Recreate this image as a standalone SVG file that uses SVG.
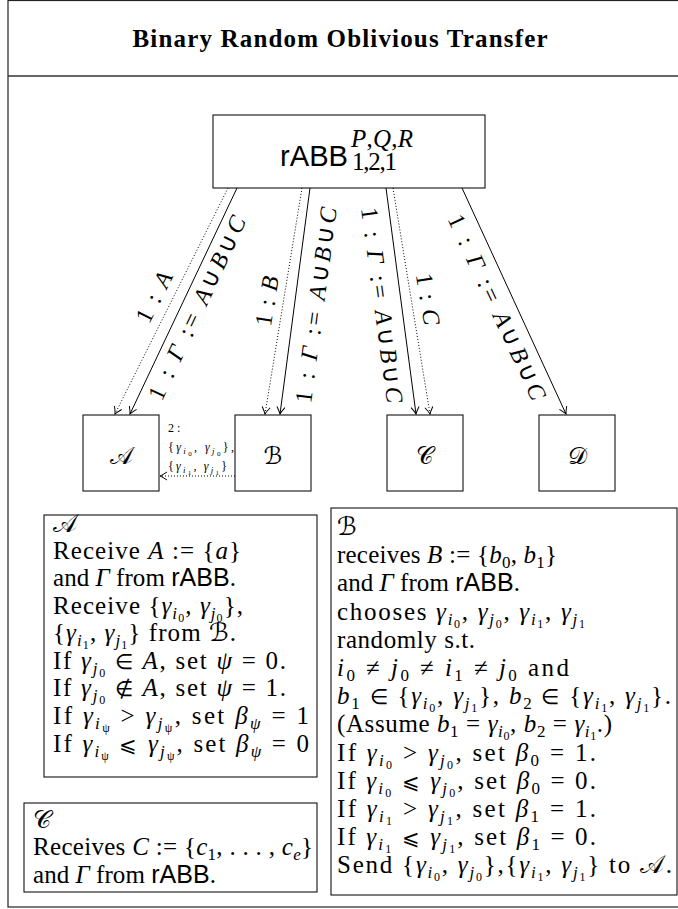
<svg xmlns="http://www.w3.org/2000/svg" width="678" height="909" viewBox="0 0 678 909">
<style>
.t{font-family:"Liberation Serif",serif;font-size:25px;fill:#000}
.i{font-style:italic}
.s{font-size:17px}
.ss{font-size:12px;font-style:normal}
.op{font-size:21px}
.sf{font-family:"Liberation Sans",sans-serif;font-style:normal}
.cal{font-family:"DejaVu Sans","Noto Sans",serif;font-style:normal}
.box{fill:#fff;stroke:#111;stroke-width:1.1}
.lab{font-family:"Liberation Serif",serif;font-size:24px;fill:#000}
.sm{font-family:"Liberation Serif",serif;font-size:12px;fill:#000}
.s8{font-size:9px}
.s6{font-size:7px;font-style:normal}
.solid{stroke:#000;stroke-width:1;fill:none}
.dot{stroke:#000;stroke-width:1;fill:none;stroke-dasharray:1 2}
</style>
<defs>
<marker id="ah" viewBox="-9 -6 11 12" refX="0" refY="0" markerWidth="11" markerHeight="12" markerUnits="userSpaceOnUse" orient="auto">
<path d="M-7,-4 Q-2.5,-1 0,0 Q-2.5,1 -7,4" fill="none" stroke="#000" stroke-width="1"/>
</marker>
</defs>
<rect x="0" y="0" width="678" height="909" fill="#fff"/>
<g id="frame">
<rect x="8" y="0.5" width="700" height="906.5" fill="none" stroke="#222" stroke-width="1.2"/>
<line x1="8" y1="76" x2="678" y2="76" stroke="#333" stroke-width="1.6"/>
</g>
<g id="title">
<text x="340" y="47" text-anchor="middle" font-family="Liberation Serif, serif" font-weight="bold" font-size="25" textLength="415" lengthAdjust="spacing">Binary Random Oblivious Transfer</text>
</g>
<g id="node-rabb">
<rect class="box" x="213" y="115" width="272" height="73"/>
<text class="sf" x="280" y="166" font-size="29" textLength="68" lengthAdjust="spacingAndGlyphs">rABB</text>
<text class="t" x="351" y="147" font-size="20" textLength="62"><tspan class="i">P</tspan>,<tspan class="i">Q</tspan>,<tspan class="i">R</tspan></text>
<text class="t" x="352" y="170" font-size="20" textLength="45">1,2,1</text>
</g>
<g id="node-A"><rect class="box" x="83" y="415" width="76" height="76"/><text class="cal" x="121" y="464" font-size="24" text-anchor="middle">𝒜</text></g>
<g id="node-B"><rect class="box" x="235" y="415" width="76" height="76"/><text class="cal" x="273" y="464" font-size="24" text-anchor="middle">ℬ</text></g>
<g id="node-C"><rect class="box" x="387" y="415" width="76" height="76"/><text class="cal" x="425" y="464" font-size="24" text-anchor="middle">𝒞</text></g>
<g id="node-D"><rect class="box" x="539" y="415" width="76" height="76"/><text class="cal" x="577" y="464" font-size="24" text-anchor="middle">𝒟</text></g>
<g id="connectors">
<line class="dot" x1="228" y1="188" x2="115" y2="414" marker-end="url(#ah)"/>
<line class="solid" x1="237" y1="188" x2="130" y2="414" marker-end="url(#ah)"/>
<line class="dot" x1="302" y1="188" x2="265" y2="414" marker-end="url(#ah)"/>
<line class="solid" x1="310" y1="188" x2="280" y2="414" marker-end="url(#ah)"/>
<line class="solid" x1="386" y1="188" x2="416" y2="414" marker-end="url(#ah)"/>
<line class="dot" x1="393" y1="188" x2="430" y2="414" marker-end="url(#ah)"/>
<line class="solid" x1="462" y1="188" x2="566" y2="414" marker-end="url(#ah)"/>
<line class="dot" x1="235" y1="476" x2="160" y2="476" marker-end="url(#ah)"/>
<text class="lab" transform="translate(154,297) rotate(-63.4)" x="0" y="8" text-anchor="middle" textLength="54">1 : <tspan class="i">A</tspan></text>
<text class="lab" transform="translate(197,308) rotate(-64.9)" x="0" y="8" text-anchor="middle" textLength="200">1 : <tspan class="i">Γ</tspan> := <tspan class="i">A</tspan>∪<tspan class="i">B</tspan>∪<tspan class="i">C</tspan></text>
<text class="lab" transform="translate(267,301) rotate(-80.7)" x="0" y="8" text-anchor="middle" textLength="50">1 : <tspan class="i">B</tspan></text>
<text class="lab" transform="translate(316,305) rotate(-82.4)" x="0" y="8" text-anchor="middle" textLength="197">1 : <tspan class="i">Γ</tspan> := <tspan class="i">A</tspan>∪<tspan class="i">B</tspan>∪<tspan class="i">C</tspan></text>
<text class="lab" transform="translate(382,305) rotate(82.4)" x="0" y="8" text-anchor="middle" textLength="197">1 : <tspan class="i">Γ</tspan> := <tspan class="i">A</tspan>∪<tspan class="i">B</tspan>∪<tspan class="i">C</tspan></text>
<text class="lab" transform="translate(428,299) rotate(80.6)" x="0" y="8" text-anchor="middle" textLength="52">1 : <tspan class="i">C</tspan></text>
<text class="lab" transform="translate(497,307) rotate(65.1)" x="0" y="8" text-anchor="middle" textLength="202">1 : <tspan class="i">Γ</tspan> := <tspan class="i">A</tspan>∪<tspan class="i">B</tspan>∪<tspan class="i">C</tspan></text>
<text class="sm" x="168" y="432">2 :</text>
<text class="sm" x="168" y="451" textLength="66">{<tspan class="i">γ</tspan><tspan class="i s8" dy="3">i</tspan><tspan class="s6" dy="2">0</tspan><tspan dy="-5">, </tspan><tspan class="i">γ</tspan><tspan class="i s8" dy="3">j</tspan><tspan class="s6" dy="2">0</tspan><tspan dy="-5">},</tspan></text>
<text class="sm" x="168" y="470" textLength="59">{<tspan class="i">γ</tspan><tspan class="i s8" dy="3">i</tspan><tspan class="s6" dy="2">1</tspan><tspan dy="-5">, </tspan><tspan class="i">γ</tspan><tspan class="i s8" dy="3">j</tspan><tspan class="s6" dy="2">1</tspan><tspan dy="-5">}</tspan></text>
</g>
<g id="box-A">
<rect class="box" x="44" y="515" width="273" height="262"/>
<text class="t cal" x="53" y="532" font-size="22">𝒜</text>
<text class="t" x="53" y="559" textLength="188">Receive <tspan class="i">A</tspan> := {<tspan class="i">a</tspan>}</text>
<text class="t" x="53" y="586" textLength="183">and <tspan class="i">Γ</tspan> from <tspan class="sf">rABB</tspan>.</text>
<text class="t" x="53" y="614" textLength="190">Receive {<tspan class="i">γ</tspan><tspan class="i s" dy="5">i</tspan><tspan class="ss" dy="3">0</tspan><tspan dy="-8">, </tspan><tspan class="i">γ</tspan><tspan class="i s" dy="5">j</tspan><tspan class="ss" dy="3">0</tspan><tspan dy="-8">},</tspan></text>
<text class="t" x="53" y="641" textLength="183">{<tspan class="i">γ</tspan><tspan class="i s" dy="5">i</tspan><tspan class="ss" dy="3">1</tspan><tspan dy="-8">, </tspan><tspan class="i">γ</tspan><tspan class="i s" dy="5">j</tspan><tspan class="ss" dy="3">1</tspan><tspan dy="-8">} from </tspan><tspan class="cal">ℬ</tspan>.</text>
<text class="t" x="53" y="669" textLength="233">If <tspan class="i">γ</tspan><tspan class="i s" dy="5">j</tspan><tspan class="ss" dy="3">0</tspan><tspan dy="-8"> </tspan><tspan class="op">∈</tspan> <tspan class="i">A</tspan>, set <tspan class="i">ψ</tspan> = 0.</text>
<text class="t" x="53" y="696" textLength="233">If <tspan class="i">γ</tspan><tspan class="i s" dy="5">j</tspan><tspan class="ss" dy="3">0</tspan><tspan dy="-8"> </tspan><tspan class="op">∉</tspan> <tspan class="i">A</tspan>, set <tspan class="i">ψ</tspan> = 1.</text>
<text class="t" x="53" y="724" textLength="256">If <tspan class="i">γ</tspan><tspan class="i s" dy="5">i</tspan><tspan class="ss i" dy="3">ψ</tspan><tspan dy="-8"> &gt; </tspan><tspan class="i">γ</tspan><tspan class="i s" dy="5">j</tspan><tspan class="ss i" dy="3">ψ</tspan><tspan dy="-8">, set </tspan><tspan class="i">β</tspan><tspan class="i s" dy="5">ψ</tspan><tspan dy="-5"> = 1</tspan></text>
<text class="t" x="53" y="752" textLength="256">If <tspan class="i">γ</tspan><tspan class="i s" dy="5">i</tspan><tspan class="ss i" dy="3">ψ</tspan><tspan dy="-8"> </tspan><tspan class="op">⩽</tspan> <tspan class="i">γ</tspan><tspan class="i s" dy="5">j</tspan><tspan class="ss i" dy="3">ψ</tspan><tspan dy="-8">, set </tspan><tspan class="i">β</tspan><tspan class="i s" dy="5">ψ</tspan><tspan dy="-5"> = 0</tspan></text>
</g>
<g id="box-C">
<rect class="box" x="24" y="803" width="293" height="89"/>
<text class="t cal" x="33" y="828" font-size="22">𝒞</text>
<text class="t" x="33" y="855" textLength="280">Receives <tspan class="i">C</tspan> := {<tspan class="i">c</tspan><tspan class="s" dy="5">1</tspan><tspan dy="-5">, . . . , </tspan><tspan class="i">c</tspan><tspan class="i s" dy="5">e</tspan><tspan dy="-5">}</tspan></text>
<text class="t" x="33" y="883" textLength="183">and <tspan class="i">Γ</tspan> from <tspan class="sf">rABB</tspan>.</text>
</g>
<g id="box-B">
<rect class="box" x="331" y="508" width="346" height="387"/>
<text class="t cal" x="337" y="535" font-size="22">ℬ</text>
<text class="t" x="337" y="563" textLength="220">receives <tspan class="i">B</tspan> := {<tspan class="i">b</tspan><tspan class="s" dy="5">0</tspan><tspan dy="-5">, </tspan><tspan class="i">b</tspan><tspan class="s" dy="5">1</tspan><tspan dy="-5">}</tspan></text>
<text class="t" x="337" y="591" textLength="183">and <tspan class="i">Γ</tspan> from <tspan class="sf">rABB</tspan>.</text>
<text class="t" x="337" y="620" textLength="248">chooses <tspan class="i">γ</tspan><tspan class="i s" dy="5">i</tspan><tspan class="ss" dy="3">0</tspan><tspan dy="-8">, </tspan><tspan class="i">γ</tspan><tspan class="i s" dy="5">j</tspan><tspan class="ss" dy="3">0</tspan><tspan dy="-8">, </tspan><tspan class="i">γ</tspan><tspan class="i s" dy="5">i</tspan><tspan class="ss" dy="3">1</tspan><tspan dy="-8">, </tspan><tspan class="i">γ</tspan><tspan class="i s" dy="5">j</tspan><tspan class="ss" dy="3">1</tspan></text>
<text class="t" x="337" y="648" textLength="138">randomly s.t.</text>
<text class="t" x="337" y="676" textLength="232"><tspan class="i">i</tspan><tspan class="s" dy="5">0</tspan><tspan dy="-5"> ≠ </tspan><tspan class="i">j</tspan><tspan class="s" dy="5">0</tspan><tspan dy="-5"> ≠ </tspan><tspan class="i">i</tspan><tspan class="s" dy="5">1</tspan><tspan dy="-5"> ≠ </tspan><tspan class="i">j</tspan><tspan class="s" dy="5">0</tspan><tspan dy="-5"> and</tspan></text>
<text class="t" x="337" y="704" textLength="334"><tspan class="i">b</tspan><tspan class="s" dy="5">1</tspan><tspan dy="-5"> </tspan><tspan class="op">∈</tspan> {<tspan class="i">γ</tspan><tspan class="i s" dy="5">i</tspan><tspan class="ss" dy="3">0</tspan><tspan dy="-8">, </tspan><tspan class="i">γ</tspan><tspan class="i s" dy="5">j</tspan><tspan class="ss" dy="3">1</tspan><tspan dy="-8">}, </tspan><tspan class="i">b</tspan><tspan class="s" dy="5">2</tspan><tspan dy="-5"> </tspan><tspan class="op">∈</tspan> {<tspan class="i">γ</tspan><tspan class="i s" dy="5">i</tspan><tspan class="ss" dy="3">1</tspan><tspan dy="-8">, </tspan><tspan class="i">γ</tspan><tspan class="i s" dy="5">j</tspan><tspan class="ss" dy="3">1</tspan><tspan dy="-8">}.</tspan></text>
<text class="t" x="337" y="732" textLength="275">(Assume <tspan class="i">b</tspan><tspan class="s" dy="5">1</tspan><tspan dy="-5"> = </tspan><tspan class="i">γ</tspan><tspan class="i s" dy="5">i</tspan><tspan class="ss" dy="3">0</tspan><tspan dy="-8">, </tspan><tspan class="i">b</tspan><tspan class="s" dy="5">2</tspan><tspan dy="-5"> = </tspan><tspan class="i">γ</tspan><tspan class="i s" dy="5">i</tspan><tspan class="ss" dy="3">1</tspan><tspan dy="-8">.)</tspan></text>
<text class="t" x="337" y="761" textLength="259">If <tspan class="i">γ</tspan><tspan class="i s" dy="5">i</tspan><tspan class="ss" dy="3">0</tspan><tspan dy="-8"> &gt; </tspan><tspan class="i">γ</tspan><tspan class="i s" dy="5">j</tspan><tspan class="ss" dy="3">0</tspan><tspan dy="-8">, set </tspan><tspan class="i">β</tspan><tspan class="s" dy="5">0</tspan><tspan dy="-5"> = 1.</tspan></text>
<text class="t" x="337" y="789" textLength="259">If <tspan class="i">γ</tspan><tspan class="i s" dy="5">i</tspan><tspan class="ss" dy="3">0</tspan><tspan dy="-8"> </tspan><tspan class="op">⩽</tspan> <tspan class="i">γ</tspan><tspan class="i s" dy="5">j</tspan><tspan class="ss" dy="3">0</tspan><tspan dy="-8">, set </tspan><tspan class="i">β</tspan><tspan class="s" dy="5">0</tspan><tspan dy="-5"> = 0.</tspan></text>
<text class="t" x="337" y="817" textLength="259">If <tspan class="i">γ</tspan><tspan class="i s" dy="5">i</tspan><tspan class="ss" dy="3">1</tspan><tspan dy="-8"> &gt; </tspan><tspan class="i">γ</tspan><tspan class="i s" dy="5">j</tspan><tspan class="ss" dy="3">1</tspan><tspan dy="-8">, set </tspan><tspan class="i">β</tspan><tspan class="s" dy="5">1</tspan><tspan dy="-5"> = 1.</tspan></text>
<text class="t" x="337" y="845" textLength="259">If <tspan class="i">γ</tspan><tspan class="i s" dy="5">i</tspan><tspan class="ss" dy="3">1</tspan><tspan dy="-8"> </tspan><tspan class="op">⩽</tspan> <tspan class="i">γ</tspan><tspan class="i s" dy="5">j</tspan><tspan class="ss" dy="3">1</tspan><tspan dy="-8">, set </tspan><tspan class="i">β</tspan><tspan class="s" dy="5">1</tspan><tspan dy="-5"> = 0.</tspan></text>
<text class="t" x="337" y="873" textLength="335">Send {<tspan class="i">γ</tspan><tspan class="i s" dy="5">i</tspan><tspan class="ss" dy="3">0</tspan><tspan dy="-8">, </tspan><tspan class="i">γ</tspan><tspan class="i s" dy="5">j</tspan><tspan class="ss" dy="3">0</tspan><tspan dy="-8">},{</tspan><tspan class="i">γ</tspan><tspan class="i s" dy="5">i</tspan><tspan class="ss" dy="3">1</tspan><tspan dy="-8">, </tspan><tspan class="i">γ</tspan><tspan class="i s" dy="5">j</tspan><tspan class="ss" dy="3">1</tspan><tspan dy="-8">} to </tspan><tspan class="cal">𝒜</tspan>.</text>
</g>
</svg>
